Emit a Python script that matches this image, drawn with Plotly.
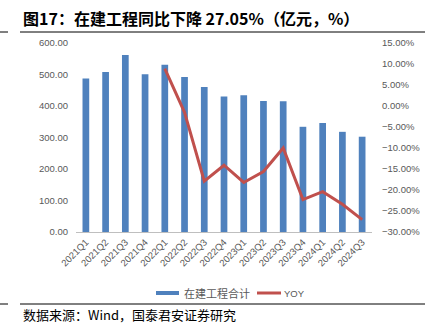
import plotly.graph_objects as go

quarters = ["2021Q1", "2021Q2", "2021Q3", "2021Q4", "2022Q1", "2022Q2", "2022Q3", "2022Q4",
            "2023Q1", "2023Q2", "2023Q3", "2023Q4", "2024Q1", "2024Q2", "2024Q3"]
cip_total = [487, 508, 562, 501, 531, 492, 460, 430, 434, 416, 414.7, 334, 346, 318, 302.5]
yoy_pct = [None, None, None, None, 8.9, -1.5, -17.9, -14.1, -18.2, -15.6, -10.0, -22.3, -20.4, -23.4, -27.05]

BAR_COLOR = "#4F81BD"
LINE_COLOR = "#C0504D"

W, H = 439, 324
L, R, T, B = 76, 67, 43, 92
pw, ph = W - L - R, H - T - B


def px_x(x):
    return (x - L) / pw


def px_y(y):
    return (H - B - y) / ph


fig = go.Figure()
fig.add_trace(go.Bar(x=quarters, y=cip_total, name="在建工程合计",
                     marker=dict(color=BAR_COLOR, line=dict(width=0)), yaxis="y"))
fig.add_trace(go.Scatter(x=quarters, y=yoy_pct, name="YOY", mode="lines",
                         line=dict(color=LINE_COLOR, width=3), yaxis="y2"))

tick_font = dict(family="Liberation Sans Narrow, Liberation Sans, Arial", size=9.5, color="#595959")

# hand-drawn legend: swatches plus labels below the plot
legend_shapes = [
    dict(type="rect", xref="paper", yref="paper", x0=px_x(156), x1=px_x(179),
         y0=px_y(295), y1=px_y(291), fillcolor=BAR_COLOR, line=dict(width=0)),
    dict(type="line", xref="paper", yref="paper", x0=px_x(257), x1=px_x(281),
         y0=px_y(293), y1=px_y(293), line=dict(color=LINE_COLOR, width=3)),
]
legend_labels = [
    dict(text="在建工程合计", xref="paper", yref="paper", x=px_x(182), y=px_y(293),
         xanchor="left", yanchor="middle", showarrow=False,
         font=dict(family="Noto Sans CJK SC", size=11, color="#595959")),
    dict(text="YOY", xref="paper", yref="paper", x=px_x(282), y=px_y(293),
         xanchor="left", yanchor="middle", showarrow=False,
         font=dict(family="Liberation Sans Narrow, Liberation Sans", size=9.5, color="#595959")),
]

rules = []
for yy in (32, 304):
    rules.append(dict(type="line", xref="paper", yref="paper", x0=px_x(20), x1=px_x(425),
                      y0=px_y(yy), y1=px_y(yy), line=dict(color="black", width=1)))
    rules.append(dict(type="line", xref="paper", yref="paper", x0=px_x(0), x1=px_x(8),
                      y0=px_y(yy), y1=px_y(yy), line=dict(color="black", width=1)))

fig.update_layout(
    width=W, height=H,
    margin=dict(l=L, r=R, t=T, b=B),
    paper_bgcolor="white", plot_bgcolor="white",
    bargap=0.66,
    showlegend=False,
    xaxis=dict(type="category", tickangle=-45, tickfont=tick_font, showline=True,
               linecolor="#BFBFBF", linewidth=1, ticks="", showgrid=False),
    yaxis=dict(range=[0, 600], dtick=100, tickformat=".2f", tickfont=tick_font,
               showgrid=False, zeroline=False, showline=False, ticks="",
               ticklabelstandoff=7),
    yaxis2=dict(range=[-30, 15], dtick=5, tickformat=".2f", ticksuffix="%", tickfont=tick_font,
                overlaying="y", side="right", showgrid=False, zeroline=False, showline=False,
                ticks="", ticklabelstandoff=9),
    annotations=[
        dict(text="<b>图17：在建工程同比下降 27.05%（亿元，%）</b>", xref="paper", yref="paper",
             x=px_x(21), y=px_y(18), xanchor="left", yanchor="middle", showarrow=False,
             font=dict(family="Noto Sans CJK SC", size=16, color="black")),
        dict(text="数据来源：Wind，国泰君安证券研究", xref="paper", yref="paper",
             x=px_x(21), y=px_y(314), xanchor="left", yanchor="middle", showarrow=False,
             font=dict(family="Noto Sans CJK SC", size=13, color="black")),
    ] + legend_labels,
    shapes=rules + legend_shapes,
)

fig.write_html("out.html")
